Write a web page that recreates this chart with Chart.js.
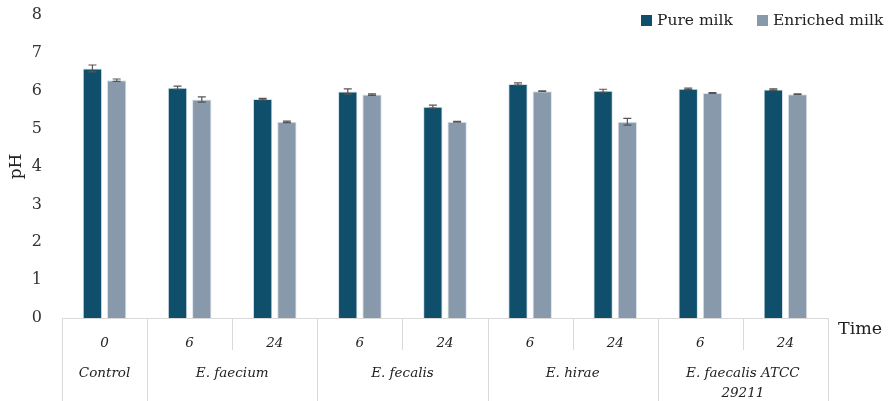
<!DOCTYPE html>
<html>
<head>
<meta charset="utf-8">
<script src="https://cdn.jsdelivr.net/npm/chart.js@4.4.1/dist/chart.umd.min.js"></script>
<style>
  html, body { margin: 0; padding: 0; background: #fff; }
  #wrap { width: 888px; height: 401px; }
</style>
</head>
<body>
<div id="wrap"><canvas id="phChart"></canvas></div>
<script>
// Chart data
const timeLabels = ['0', '6', '24', '6', '24', '6', '24', '6', '24'];
const groups = [
    { name: ['Control'], from: 0, to: 0 },
    { name: ['E. faecium'], from: 1, to: 2 },
    { name: ['E. fecalis'], from: 3, to: 4 },
    { name: ['E. hirae'], from: 5, to: 6 },
    { name: ['E. faecalis ATCC', '29211'], from: 7, to: 8 }
];
const pureMilk = [6.59, 6.08, 5.78, 5.98, 5.58, 6.18, 6.0, 6.05, 6.03];
const pureErr = [0.09, 0.04, 0.02, 0.07, 0.04, 0.03, 0.04, 0.02, 0.02];
const enrichedMilk = [6.28, 5.77, 5.18, 5.9, 5.18, 5.99, 5.18, 5.94, 5.91];
const enrichedErr = [0.03, 0.07, 0.02, 0.02, 0.01, 0.01, 0.09, 0.01, 0.01];
const yTicks = [0, 1, 2, 3, 4, 5, 6, 7, 8];

const serif = "'DejaVu Serif', 'Liberation Serif', serif";
const lineColor = '#d9d9d9';

// error bars, drawn through the scales
const errorBars = {
    id: 'errorBars',
    afterDatasetsDraw(chart) {
        const ctx = chart.ctx;
        const y = chart.scales.y;
        const errs = [pureErr, enrichedErr];
        ctx.save();
        ctx.strokeStyle = '#555';
        ctx.lineWidth = 1.2;
        chart.data.datasets.forEach((ds, di) => {
            chart.getDatasetMeta(di).data.forEach((bar, i) => {
                const v = ds.data[i];
                const e = errs[di][i];
                const top = y.getPixelForValue(v + e);
                const bot = y.getPixelForValue(v - e);
                ctx.beginPath();
                ctx.moveTo(bar.x, top); ctx.lineTo(bar.x, bot);
                ctx.moveTo(bar.x - 4, top); ctx.lineTo(bar.x + 4, top);
                ctx.moveTo(bar.x - 4, bot); ctx.lineTo(bar.x + 4, bot);
                ctx.stroke();
            });
        });
        ctx.restore();
    }
};

// table-style x axis with group labels, plus legend and "Time"
const axisTable = {
    id: 'axisTable',
    afterDraw(chart) {
        const ctx = chart.ctx;
        const x = chart.scales.x;
        const area = chart.chartArea;
        const half = (x.getPixelForValue(1) - x.getPixelForValue(0)) / 2;
        const bottom = chart.height;
        const rowY = area.bottom + 32;
        ctx.save();
        ctx.strokeStyle = lineColor;
        ctx.lineWidth = 1;
        ctx.beginPath();
        ctx.moveTo(x.getPixelForValue(0) - half, area.bottom + 0.5);
        ctx.lineTo(x.getPixelForValue(timeLabels.length - 1) + half, area.bottom + 0.5);
        groups.forEach(g => {
            const l = Math.round(x.getPixelForValue(g.from) - half) + 0.5;
            const r = Math.round(x.getPixelForValue(g.to) + half) + 0.5;
            ctx.moveTo(l, area.bottom); ctx.lineTo(l, bottom);
            ctx.moveTo(r, area.bottom); ctx.lineTo(r, bottom);
            for (let i = g.from; i < g.to; i++) {
                const m = Math.round(x.getPixelForValue(i) + half) + 0.5;
                ctx.moveTo(m, area.bottom); ctx.lineTo(m, rowY);
            }
        });
        ctx.stroke();

        ctx.fillStyle = '#222';
        ctx.font = 'italic 13.5px ' + serif;
        ctx.textAlign = 'center';
        ctx.textBaseline = 'middle';
        groups.forEach(g => {
            const cx = (x.getPixelForValue(g.from) + x.getPixelForValue(g.to)) / 2;
            g.name.forEach((line, k) => ctx.fillText(line, cx, area.bottom + 55 + k * 20));
        });

        ctx.font = '17.5px ' + serif;
        ctx.textAlign = 'left';
        ctx.fillText('Time', area.right + 10, area.bottom + 11);

        // legend
        ctx.font = '15.5px ' + serif;
        let lx = 641;
        chart.data.datasets.forEach(ds => {
            ctx.fillStyle = ds.backgroundColor;
            ctx.fillRect(lx, 15, 11, 11);
            ctx.fillStyle = '#222';
            ctx.fillText(ds.label, lx + 16, 21);
            lx += 116;
        });
        ctx.restore();
    }
};

new Chart(document.getElementById('phChart').getContext('2d'), {
    type: 'bar',
    data: {
        labels: timeLabels,
        datasets: [
            { label: 'Pure milk', data: pureMilk, backgroundColor: '#0f4f6c', borderColor: '#d6e0e8', borderWidth: 1 },
            { label: 'Enriched milk', data: enrichedMilk, backgroundColor: '#8799ab', borderColor: '#dde3ea', borderWidth: 1 }
        ]
    },
    options: {
        responsive: true,
        maintainAspectRatio: false,
        animation: false,
        categoryPercentage: 0.57,
        barPercentage: 0.8,
        layout: { padding: { top: 15, right: 60, left: 0, bottom: 0 } },
        plugins: {
            legend: { display: false },
            tooltip: { enabled: false }
        },
        scales: {
            x: {
                grid: { display: false },
                border: { display: false },
                ticks: {
                    color: '#222',
                    font: { family: serif, size: 13.5, style: 'italic' },
                    padding: 9,
                    maxRotation: 0
                },
                afterFit(s) { s.height = 83; s.paddingLeft = 0; s.paddingRight = 0; }
            },
            y: {
                min: 0,
                max: 8,
                afterBuildTicks(s) { s.ticks = yTicks.map(v => ({ value: v })); },
                grid: { display: false },
                border: { display: false },
                ticks: {
                    color: '#333',
                    font: { family: serif, size: 16 },
                    padding: 12
                },
                title: {
                    display: true,
                    text: 'pH',
                    color: '#222',
                    font: { family: serif, size: 17 },
                    padding: { top: 6, bottom: 0 }
                },
                afterFit(s) { s.width = 62; s.paddingTop = 0; s.paddingBottom = 0; }
            }
        }
    },
    plugins: [errorBars, axisTable]
});
</script>
</body>
</html>
